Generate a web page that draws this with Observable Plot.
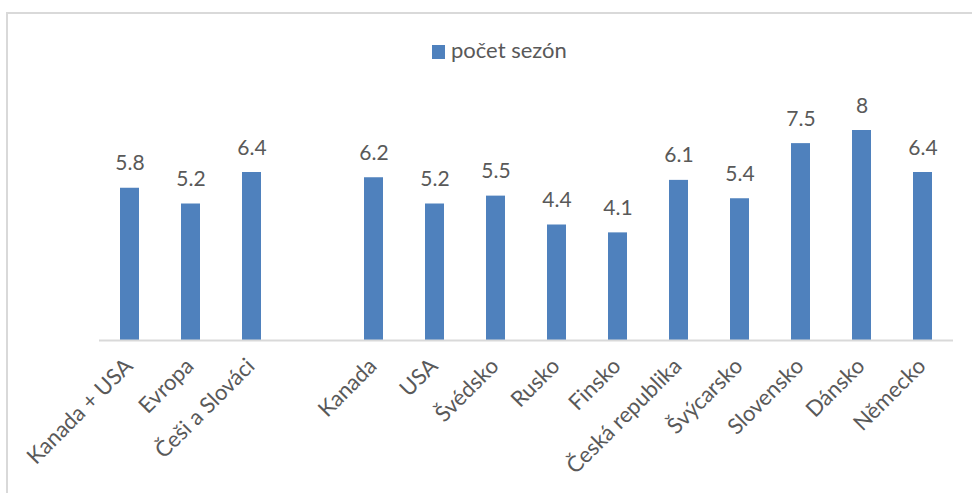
<!DOCTYPE html>
<html>
<head>
<meta charset="utf-8">
<script src="https://cdn.jsdelivr.net/npm/d3@7"></script>
<script src="https://cdn.jsdelivr.net/npm/@observablehq/plot@0.6"></script>
<style>
  html, body { margin: 0; padding: 0; background: #fff; }
  body { width: 972px; height: 493px; overflow: hidden; position: relative; font-family: Lato, "Open Sans", sans-serif; }
  #frame { position: absolute; left: 6px; top: 12px; width: 1100px; height: 700px; border: 2px solid #d9d9d9; box-sizing: border-box; pointer-events: none; }
  #legend { position: relative; height: 80px; }
  #legend .sw { position: absolute; left: 432px; top: 45px; width: 13px; height: 14px; background: #4f81bd; }
  #legend .lb { position: absolute; left: 451px; top: 36px; font-size: 22px; color: #595959; line-height: 28px; white-space: nowrap; }
  #chart { position: relative; }
</style>
</head>
<body>
<div id="legend"><div class="sw"></div><div class="lb">počet sezón</div></div>
<div id="chart"></div>
<div id="frame"></div>
<script>
const groupCategories = ["Kanada + USA", "Evropa", "Češi a Slováci"];
const groupValues = [5.8, 5.2, 6.4];
const countryCategories = ["Kanada", "USA", "Švédsko", "Rusko", "Finsko", "Česká republika", "Švýcarsko", "Slovensko", "Dánsko", "Německo"];
const countryValues = [6.2, 5.2, 5.5, 4.4, 4.1, 6.1, 5.4, 7.5, 8, 6.4];
const seriesName = "počet sezón";

const gapKey = " ";
const domain = [...groupCategories, gapKey, ...countryCategories];
const data = [
  ...groupCategories.map((c, i) => ({category: c, value: groupValues[i]})),
  ...countryCategories.map((c, i) => ({category: c, value: countryValues[i]}))
];

const textColor = "#595959";
const barColor = "#4f81bd";

const plot = Plot.plot({
  width: 972,
  height: 413,
  marginLeft: 99,
  marginRight: 19,
  marginTop: 23.75,
  marginBottom: 153,
  style: {fontFamily: "Lato, 'Open Sans', sans-serif", background: "transparent", overflow: "visible"},
  x: {domain, paddingInner: 0.69, paddingOuter: 0.345, axis: null},
  y: {domain: [0, 9], axis: null},
  marks: [
    Plot.barY(data, {x: "category", y: "value", fill: barColor}),
    Plot.ruleY([0], {stroke: "#d9d9d9", strokeWidth: 2}),
    Plot.text(data, {x: "category", y: "value", text: d => String(d.value), dy: -18, lineAnchor: "bottom", fontSize: 21, fill: textColor}),
    Plot.text(data, {x: "category", y: 0, text: "category", rotate: -45, textAnchor: "end", lineAnchor: "bottom", dx: 4, dy: 27, fontSize: 22, fill: textColor})
  ]
});
document.getElementById("chart").appendChild(plot);
</script>
</body>
</html>
